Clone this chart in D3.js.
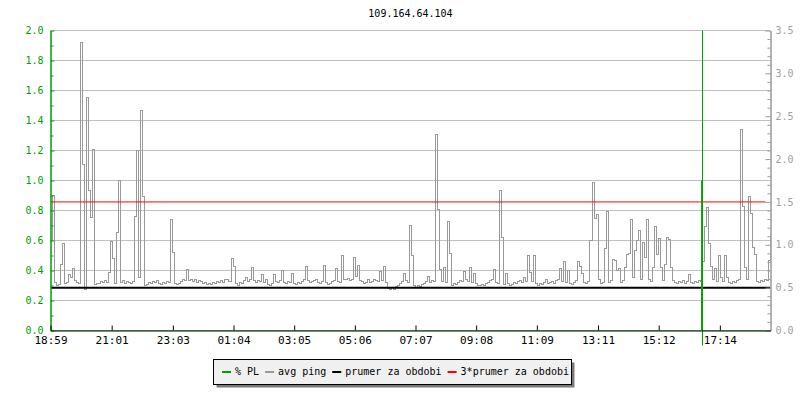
<!DOCTYPE html>
<html>
<head>
<meta charset="utf-8">
<script src="https://cdn.jsdelivr.net/npm/d3@7"></script>
<style>
body { margin: 0; background: #fff; }
text { font-family: "DejaVu Sans Mono", monospace; }
</style>
</head>
<body>
<svg id="chart" width="800" height="400"></svg>
<script>
var title = "109.164.64.104";
var startTime = "18:59";
var spanMinutes = 1436;
var stepMinutes = 4;

var timeLabels = ["18:59","21:01","23:03","01:04","03:05","05:06","07:07","09:08","11:09","13:11","15:12","17:14"];
var leftTicks = [0.0,0.2,0.4,0.6,0.8,1.0,1.2,1.4,1.6,1.8,2.0];
var leftMinor = [0.1,0.3,0.5,0.7,0.9,1.1,1.3,1.5,1.7,1.9];
var rightTicks = [0.0,0.5,1.0,1.5,2.0,2.5,3.0,3.5];
var rightMinor = [0.1,0.2,0.3,0.4,0.6,0.7,0.8,0.9,1.1,1.2,1.3,1.4,1.6,1.7,1.8,1.9,2.1,2.2,2.3,2.4,2.6,2.7,2.8,2.9,3.1,3.2,3.3,3.4];

// avg ping, one value every 4 minutes from 18:59 (right axis)
var avgPing = [
  1.05,1.57,0.56,0.53,0.54,0.77,1.01,0.55,0.56,0.65,0.62,0.72,0.58,0.56,0.55,3.36,1.94,0.48,2.72,1.63,
  1.32,2.11,0.54,0.55,0.55,0.57,0.56,0.58,0.56,0.68,1.04,0.84,0.55,1.14,1.75,0.56,0.58,0.55,0.57,0.56,
  0.55,0.57,1.33,2.10,0.62,2.57,1.56,0.53,0.54,0.56,0.55,0.57,0.56,0.58,0.55,0.54,0.56,0.55,0.57,0.56,
  1.30,0.91,0.55,0.54,0.55,0.57,0.60,0.58,0.71,0.58,0.60,0.57,0.59,0.56,0.58,0.57,0.55,0.56,0.54,0.55,
  0.54,0.56,0.55,0.57,0.56,0.58,0.56,0.59,0.60,0.57,0.84,0.75,0.55,0.53,0.56,0.55,0.58,0.62,0.57,0.59,
  0.73,0.58,0.56,0.58,0.57,0.65,0.56,0.60,0.54,0.53,0.55,0.65,0.57,0.56,0.58,0.70,0.56,0.55,0.57,0.56,
  0.66,0.55,0.54,0.56,0.55,0.57,0.59,0.75,0.58,0.56,0.57,0.58,0.60,0.56,0.55,0.57,0.76,0.56,0.54,0.55,
  0.57,0.58,0.72,0.57,0.56,0.88,0.60,0.59,0.61,0.58,0.60,0.85,0.63,0.76,0.58,0.57,0.55,0.56,0.60,0.56,
  0.57,0.60,0.58,0.57,0.69,0.58,0.75,0.56,0.49,0.48,0.50,0.48,0.51,0.53,0.55,0.57,0.67,0.58,0.56,1.23,
  0.88,0.52,0.50,0.53,0.51,0.54,0.55,0.57,0.63,0.56,0.58,0.57,2.29,1.41,0.71,0.57,0.73,0.56,1.27,0.90,
  0.53,0.55,0.54,0.56,0.58,0.57,0.69,0.59,0.57,0.73,0.56,0.67,0.55,0.53,0.52,0.54,0.53,0.55,0.56,0.58,
  0.60,0.71,0.56,0.55,1.63,1.08,0.54,0.66,0.55,0.53,0.54,0.56,0.55,0.57,0.58,0.56,0.62,0.57,0.88,0.68,
  0.57,0.87,0.55,0.53,0.55,0.54,0.56,0.60,0.55,0.56,0.57,0.55,0.58,0.59,0.72,0.57,0.81,0.56,0.70,0.55,
  0.54,0.56,0.58,0.80,0.75,0.66,0.56,0.55,0.57,1.05,1.73,1.31,1.35,0.60,0.55,0.56,0.96,1.39,0.56,0.58,
  0.83,0.82,0.70,0.72,0.56,0.58,0.74,0.89,0.90,1.30,0.62,0.93,1.05,1.17,0.60,1.03,0.85,1.30,0.60,0.57,
  0.74,1.21,0.89,1.07,0.74,0.58,0.77,1.09,1.06,0.74,0.58,0.56,0.55,0.57,0.56,0.58,0.55,0.57,0.65,0.56,
  0.55,0.57,0.56,0.58,0.57,0.80,1.21,1.43,1.01,0.75,0.60,0.72,0.57,0.88,0.62,0.57,0.87,0.62,0.56,0.55,
  0.57,0.56,0.58,0.60,2.34,1.45,0.74,0.60,1.56,1.37,0.97,0.89,0.57,0.56,0.58,0.57,0.59,0.58,0.82,1.11
];

// packet loss (left axis), minutes after start
var plMinutes = [0, 1298.5, 1299, 1299.5, 1436];
var plValues  = [0, 0, 1.0, 0, 0];
var plEventMinute = 1300; // full-height loss marker

var meanPing = 0.5;
var meanSpan = [0, 1436];
var tripleSpan = [0, 1426];

var legendNames  = ["% PL", "avg ping", "prumer za obdobi", "3*prumer za obdobi"];
var legendColors = ["#00a000", "#999999", "#000000", "#ff0000"];

var svg = d3.select("#chart");
var parse = d3.timeParse("%H:%M");
var t0 = parse(startTime);
function addMin(m) { return new Date(t0.getTime() + m * 60000); }

var x = d3.scaleTime().domain([t0, addMin(spanMinutes)]).range([50.5, 770.5]);
var yL = d3.scaleLinear().domain([0, 2]).range([330.5, 30.5]);
var yR = d3.scaleLinear().domain([0, 3.5]).range([330.5, 30.5]);

// tick dates, rolling over midnight
var tickDates = [];
var prev = t0;
timeLabels.forEach(function(s) {
  var d = parse(s);
  while (d < prev) d = new Date(d.getTime() + 86400000);
  tickDates.push(d);
  prev = d;
});

svg.append("defs").append("clipPath").attr("id", "clip")
  .append("rect").attr("x", 50.5).attr("y", 30).attr("width", 720).attr("height", 300.5);

// title
svg.append("text")
  .attr("x", (x.range()[0] + x.range()[1]) / 2)
  .attr("y", 16.5)
  .attr("text-anchor", "middle")
  .attr("font-size", "10px")
  .attr("fill", "#000")
  .text(title);

// grid
svg.append("g").selectAll("line")
  .data(leftTicks.filter(function(d) { return d > 0; }))
  .join("line")
  .attr("x1", x.range()[0]).attr("x2", x.range()[1])
  .attr("y1", function(d) { return yL(d); })
  .attr("y2", function(d) { return yL(d); })
  .attr("stroke", "#c0c0c0")
  .attr("stroke-width", 1);

var plot = svg.append("g").attr("clip-path", "url(#clip)");

// avg ping
var pingLine = d3.line()
  .x(function(d, i) { return x(addMin(i * stepMinutes)); })
  .y(function(d) { return yR(d); })
  .curve(d3.curveStepAfter);

plot.append("path")
  .datum(avgPing)
  .attr("d", pingLine)
  .attr("fill", "none")
  .attr("stroke", "#999999")
  .attr("stroke-width", 1)
  .attr("shape-rendering", "crispEdges");

// mean and 3*mean
plot.append("line")
  .attr("x1", x(addMin(meanSpan[0]))).attr("x2", x(addMin(meanSpan[1])))
  .attr("y1", yR(meanPing)).attr("y2", yR(meanPing))
  .attr("stroke", "#000").attr("stroke-width", 2);

plot.append("line")
  .attr("x1", x(addMin(tripleSpan[0]))).attr("x2", x(addMin(tripleSpan[1])))
  .attr("y1", yR(meanPing * 3)).attr("y2", yR(meanPing * 3))
  .attr("stroke", "#ff0000").attr("stroke-width", 1);

// packet loss
var plLine = d3.line()
  .x(function(d, i) { return x(addMin(plMinutes[i])); })
  .y(function(d) { return yL(d); });

plot.append("path")
  .datum(plValues)
  .attr("d", plLine)
  .attr("fill", "none")
  .attr("stroke", "#00a000")
  .attr("stroke-width", 1);

svg.append("line")
  .attr("x1", Math.round(x(addMin(plEventMinute))) + 0.5)
  .attr("x2", Math.round(x(addMin(plEventMinute))) + 0.5)
  .attr("y1", yL.range()[1]).attr("y2", yL.range()[0] + 15)
  .attr("stroke", "#00a000").attr("stroke-width", 1);

// left axis (green)
var leftMinorAxis = svg.append("g")
  .attr("transform", "translate(50.5,0)")
  .call(d3.axisLeft(yL).tickValues(leftMinor).tickSizeInner(-3).tickSizeOuter(0).tickFormat(""));
var leftAxis = svg.append("g")
  .attr("transform", "translate(50.5,0)")
  .call(d3.axisLeft(yL).tickValues(leftTicks).tickSizeInner(-4).tickSizeOuter(0).tickPadding(7)
        .tickFormat(d3.format(".1f")));
[leftMinorAxis, leftAxis].forEach(function(g) {
  g.selectAll("path,line").attr("stroke", "#00a000");
  g.selectAll("text").attr("fill", "#00a000").attr("font-family", "DejaVu Sans Mono").attr("font-size", "10px");
});

// right axis (gray)
var rightMinorAxis = svg.append("g")
  .attr("transform", "translate(770.5,0)")
  .call(d3.axisRight(yR).tickValues(rightMinor).tickSizeInner(-3).tickSizeOuter(0).tickFormat(""));
var rightAxis = svg.append("g")
  .attr("transform", "translate(770.5,0)")
  .call(d3.axisRight(yR).tickValues(rightTicks).tickSizeInner(-5).tickSizeOuter(0).tickPadding(5)
        .tickFormat(d3.format(".1f")));
[rightMinorAxis, rightAxis].forEach(function(g) {
  g.selectAll("path,line").attr("stroke", "#999999");
  g.selectAll("text").attr("fill", "#a0a0a0").attr("font-family", "Liberation Mono").attr("font-size", "10px");
});

// x axis
var xAxis = svg.append("g")
  .attr("transform", "translate(0,330.5)")
  .call(d3.axisBottom(x).tickValues(tickDates).tickSizeInner(-5).tickSizeOuter(0).tickPadding(6)
        .tickFormat(function(d, i) { return timeLabels[i]; }));
xAxis.selectAll("path,line").attr("stroke", "#000");
xAxis.selectAll("text").attr("fill", "#000").attr("font-family", "DejaVu Sans Mono").attr("font-size", "11px");

// legend
var legend = svg.append("g");
var box = { x: 213.5, y: 359.5, w: 358, h: 25 };
legend.append("rect")
  .attr("x", box.x + 3).attr("y", box.y + 3).attr("width", box.w).attr("height", box.h)
  .attr("fill", "#7a7a7a");
legend.append("rect")
  .attr("x", box.x).attr("y", box.y).attr("width", box.w).attr("height", box.h)
  .attr("fill", "#f0f0f0").attr("stroke", "#000").attr("stroke-width", 1);

var lx = 222;
legendNames.forEach(function(name, i) {
  legend.append("line")
    .attr("x1", lx).attr("x2", lx + 9)
    .attr("y1", 372).attr("y2", 372)
    .attr("stroke", legendColors[i]).attr("stroke-width", 2);
  var t = legend.append("text")
    .attr("x", lx + 13).attr("y", 375)
    .attr("font-size", "10px")
    .attr("fill", "#000")
    .text(name);
  lx = lx + 13 + t.node().getComputedTextLength() + 6;
});
</script>
</body>
</html>
